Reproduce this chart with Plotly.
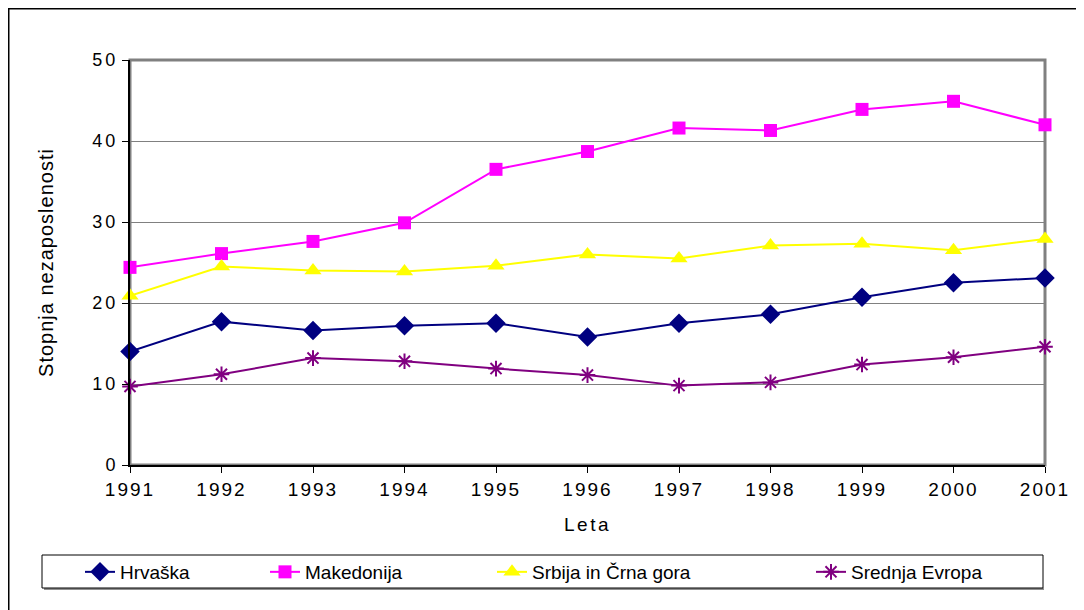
import plotly.graph_objects as go

years = [1991, 1992, 1993, 1994, 1995, 1996, 1997, 1998, 1999, 2000, 2001]
hrvaska = [14.0, 17.7, 16.6, 17.2, 17.5, 15.8, 17.5, 18.6, 20.7, 22.5, 23.1]
makedonija = [24.4, 26.1, 27.6, 29.9, 36.5, 38.7, 41.6, 41.3, 43.9, 44.9, 42.0]
srbija = [20.9, 24.5, 24.0, 23.9, 24.6, 26.0, 25.5, 27.1, 27.3, 26.5, 27.9]
srednja = [9.7, 11.2, 13.2, 12.8, 11.9, 11.1, 9.8, 10.2, 12.4, 13.3, 14.6]

FONT = "Liberation Sans, Arial, sans-serif"

# plot area in figure pixels (page has an 8px body margin)
L, R, T, B = 122, 47, 52, 153
PW, PH = 1084 - L - R, 610 - T - B


def px(x):
    return (x - L) / PW


def py(y):
    return (610 - B - y) / PH


series = [
    ("Hrvaška", hrvaska, "#000080", "diamond", 15, 72),
    ("Makedonija", makedonija, "#FF00FF", "square", 13, 257),
    ("Srbija in Črna gora", srbija, "#FFFF00", "triangle-up", 15, 484),
    ("Srednja Evropa", srednja, "#800080", "asterisk-open", 13, 803),
]

fig = go.Figure()
legend_layouts = {}
for i, (name, vals, color, symbol, size, lx) in enumerate(series):
    lg = "legend" if i == 0 else f"legend{i + 1}"
    fig.add_trace(
        go.Scatter(
            x=years,
            y=vals,
            name=name,
            mode="lines+markers",
            line=dict(color=color, width=2),
            marker=dict(symbol=symbol, size=size, color=color,
                        line=dict(color=color, width=2 if "asterisk" in symbol else 0)),
            cliponaxis=False,
            legend=lg,
        )
    )
    legend_layouts[lg] = dict(
        x=px(lx), y=py(545), xanchor="left", yanchor="top",
        bgcolor="rgba(0,0,0,0)", borderwidth=0,
        font=dict(family=FONT, size=19, color="black"),
    )

# plot area frame (gray top/right), legend box and outer chart border
fig.add_shape(type="rect", xref="paper", yref="paper", x0=0, x1=1, y0=0, y1=1,
              line=dict(color="#808080", width=3), layer="below")
fig.add_shape(type="line", xref="paper", yref="paper",
              x0=px(36), x1=px(1036), y0=py(581), y1=py(581),
              line=dict(color="#909090", width=2), layer="below")
fig.add_shape(type="rect", xref="paper", yref="paper",
              x0=px(34), x1=px(1035), y0=py(580), y1=py(547),
              line=dict(color="black", width=1), layer="below")
fig.add_shape(type="rect", xref="paper", yref="paper",
              x0=px(0.75), x1=px(1200), y0=py(800), y1=py(0.75),
              line=dict(color="black", width=1.5), layer="below")

fig.update_xaxes(
    range=[1991, 2001], tickmode="linear", dtick=1,
    showline=True, linecolor="black", linewidth=2,
    ticks="outside", ticklen=6, tickcolor="black",
    showgrid=False, zeroline=False,
    tickfont=dict(family=FONT, size=19, color="black"),
    title=dict(text="Leta", font=dict(family=FONT, size=19, color="black"), standoff=19),
)
fig.update_yaxes(
    range=[0, 50], dtick=10,
    showline=True, linecolor="black", linewidth=2,
    ticks="outside", ticklen=6, tickcolor="black",
    showgrid=True, gridcolor="#808080", gridwidth=1, zeroline=False,
    tickfont=dict(family=FONT, size=18, color="black"),
    title=dict(text="Stopnja nezaposlenosti", font=dict(family=FONT, size=20, color="black"), standoff=39),
)

fig.update_layout(
    width=1084,
    height=610,
    margin=dict(l=L, r=R, t=T, b=B),
    paper_bgcolor="white",
    plot_bgcolor="white",
    font=dict(family=FONT, size=18, color="black"),
    showlegend=True,
    **legend_layouts,
)

# the original chart uses widely spaced lettering on axis labels
post = """
var gd = document.getElementById('{plot_id}');
function sp(sel, v) { gd.querySelectorAll(sel).forEach(function (t) { t.style.letterSpacing = v; }); }
sp('.xtick text', '2px');
sp('.ytick text', '3px');
sp('text.xtitle', '2.5px');
sp('text.ytitle', '1px');
"""

fig.write_html("out.html", post_script=post)
